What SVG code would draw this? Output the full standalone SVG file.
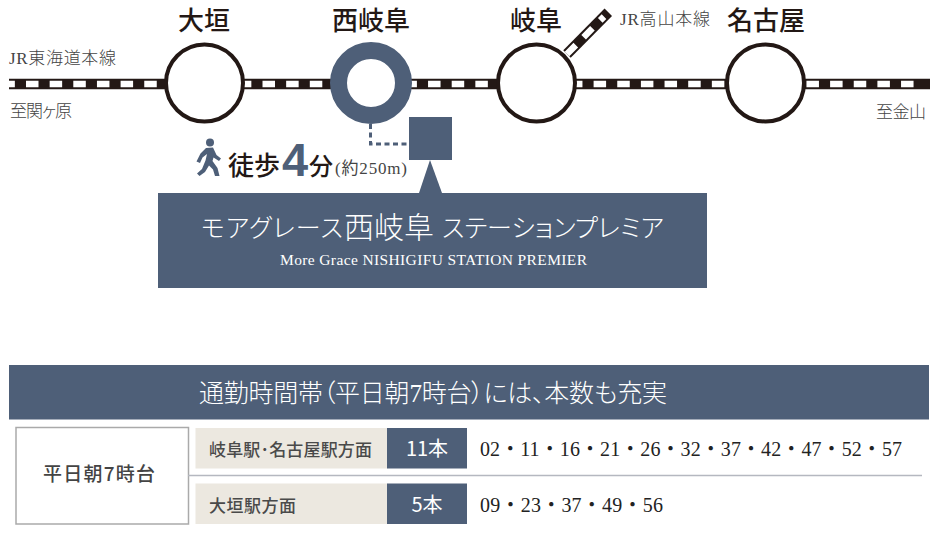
<svg xmlns="http://www.w3.org/2000/svg" width="948" height="534" viewBox="0 0 948 534">
<style>
.sans{font-family:"Noto Sans CJK JP","Liberation Sans",sans-serif}
.serif{font-family:"Liberation Serif","Noto Sans CJK JP",serif}
.palt{font-feature-settings:"palt"}
.st{font-size:26px;font-weight:500;fill:#231815;text-anchor:middle}
.lbl{font-size:17px;fill:#444;font-weight:300}
.rail{fill:none;stroke:#231815;stroke-width:10.5}
.tie{fill:none;stroke:#fff;stroke-width:6.5;stroke-dasharray:12.5 11.15}
.ring{fill:#fff;stroke:#231815;stroke-width:4}
.navy{fill:#4e5f78}
.beige{fill:#ece8e0}
.wt{fill:#fff;font-weight:300}
.head{font-size:17px;font-weight:500;fill:#4a4a4a}
.cnt{font-size:20px;fill:#fff;text-anchor:middle;font-weight:400}
.time{font-size:20px;fill:#222}
</style>
<rect width="948" height="534" fill="#fff"/>
<g id="connectors">
<line class="rail" x1="9" y1="84" x2="930" y2="84"/>
<line class="tie" x1="9" y1="84" x2="920" y2="84" stroke-dashoffset="6.65"/>
<line class="rail" x1="567" y1="54" x2="608.3" y2="12.3"/>
<line class="tie" x1="567" y1="54" x2="604" y2="16.6"/>
<path d="M370.500 124V144H409" fill="none" stroke="#4e5f78" stroke-width="3" stroke-dasharray="5 3.500"/>
<polygon class="navy" points="430,160 419,193 442,193"/>
</g>
<g id="line-labels">
<text class="serif lbl" x="9" y="64" textLength="107">JR東海道本線</text>
<text class="serif lbl palt" x="10" y="117" textLength="62">至関ヶ原</text>
<text class="serif lbl" x="620" y="25" textLength="90">JR高山本線</text>
<text class="serif lbl" x="876" y="118" textLength="50">至金山</text>
</g>
<g id="station-ogaki">
<circle class="ring" cx="204.500" cy="83" r="38.500"/>
<text class="sans st" x="204" y="30">大垣</text>
</g>
<g id="station-nishigifu">
<circle cx="371" cy="83" r="32.500" fill="#fff" stroke="#4e5f78" stroke-width="17"/>
<text class="sans st" x="371" y="30">西岐阜</text>
</g>
<g id="station-gifu">
<circle class="ring" cx="536.500" cy="83" r="38.500"/>
<text class="sans st" x="536" y="30">岐阜</text>
</g>
<g id="station-nagoya">
<circle class="ring" cx="765.500" cy="83" r="38.500"/>
<text class="sans st" x="766" y="30">名古屋</text>
</g>
<g id="walk">
<circle class="navy" cx="210" cy="142.500" r="4"/>
<path class="navy" d="M206 148L213 147.500L216.500 155L221 158.500L219 161L213.500 157.500L212.500 161L217.500 168L219.500 176H215L213 169.500L209 165.500L205 172L199.500 176L197 173.500L202 169L205.500 160.500L207 154L202.500 157.500L200 163L196.500 161.500L200.500 153.500Z"/>
<text class="sans" x="228" y="175" font-size="26" font-weight="500" fill="#231815">徒歩</text>
<text x="282" y="176" font-size="47" font-weight="700" font-family="'Liberation Sans',sans-serif" fill="#4e5f78">4</text>
<text class="sans" x="309" y="175" font-size="24" font-weight="500" fill="#231815">分</text>
<text class="serif palt" x="335" y="174" font-size="17" fill="#444" textLength="72">(約250m)</text>
</g>
<g id="property">
<rect class="navy" x="409" y="117" width="43" height="43"/>
<rect class="navy" x="158" y="193" width="549" height="95"/>
<text class="serif wt palt" x="201" y="237" font-size="25" textLength="142">モアグレース</text>
<text class="serif wt" x="344" y="238" font-size="30" textLength="90">西岐阜</text>
<text class="serif wt palt" x="442" y="237" font-size="25" textLength="222">ステーションプレミア</text>
<text class="serif" x="280" y="265" font-size="15.500" fill="#fff" textLength="307">More Grace NISHIGIFU STATION PREMIER</text>
</g>
<g id="timetable-header">
<rect class="navy" x="9" y="365" width="920" height="54.500"/>
<text class="serif wt palt" x="199" y="402" font-size="25" textLength="468">通勤時間帯（平日朝7時台）には、本数も充実</text>
</g>
<g id="timetable">
<rect x="16" y="427.500" width="172.500" height="96.500" fill="#fff" stroke="#aaa" stroke-width="1.500"/>
<line x1="188" y1="475.500" x2="922" y2="475.500" stroke="#b5b8c0" stroke-width="1.500"/>
<text class="sans" x="43" y="481" font-size="19" font-weight="500" fill="#444" textLength="112">平日朝7時台</text>
<rect class="beige" x="195.500" y="428" width="192" height="40.500"/>
<rect class="navy" x="387" y="428" width="80" height="40.500"/>
<text class="sans head" x="209" y="456" textLength="163">岐阜駅･名古屋駅方面</text>
<text class="sans cnt" x="427" y="456">11本</text>
<text class="serif time" x="480" y="456" textLength="422">02・11・16・21・26・32・37・42・47・52・57</text>
<rect class="beige" x="195.500" y="483.500" width="192" height="40.500"/>
<rect class="navy" x="387" y="483.500" width="80" height="40.500"/>
<text class="sans head" x="209" y="512" textLength="87">大垣駅方面</text>
<text class="sans cnt" x="427" y="512">5本</text>
<text class="serif time" x="480" y="512" textLength="183">09・23・37・49・56</text>
</g>
</svg>
